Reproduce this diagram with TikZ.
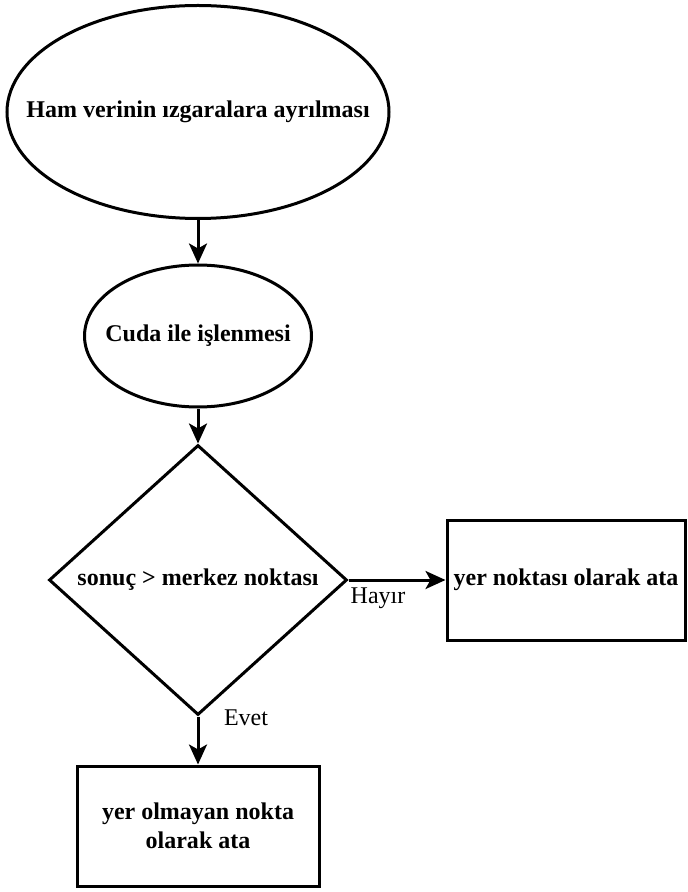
\documentclass[tikz,border=0pt]{standalone}
\usepackage{fontspec}
\setmainfont{Liberation Serif}
\usetikzlibrary{arrows.meta}
\usetikzlibrary{shapes.geometric}

\begin{document}
\begin{tikzpicture}[x=0.5pt,y=-0.5pt,line width=1.5pt]
	\useasboundingbox (0,0) rectangle (687,892);
	\tikzstyle{every node}=[draw,align=center,inner sep=0pt,font=\fontsize{12}{14.5}\selectfont\bfseries]
	\node[ellipse,inner xsep=-40pt,minimum width=191pt,minimum height=106.5pt] (ham) at (198,112) {Ham verinin ızgaralara ayrılması};
	\node[ellipse,inner xsep=-20pt,minimum width=113.5pt,minimum height=71pt] (cuda) at (198,336) {Cuda ile işlenmesi};
	\node[diamond,minimum width=149pt,minimum height=135pt] (karar) at (198,580) {sonuç > merkez noktası};
	\node[rectangle,minimum width=119pt,minimum height=60pt] (yer) at (566,580) {yer noktası olarak ata};
	\node[rectangle,minimum width=121pt,minimum height=60pt] (yerdegil) at (198,826) {yer olmayan nokta\\olarak ata};
	
	\tikzstyle{every node}=[font=\fontsize{12}{14.5}\selectfont]
	
	\draw[-{Stealth[length=10pt,width=9pt,inset=2.5pt]}] (ham) to (cuda);
	\draw[-{Stealth[length=10pt,width=9pt,inset=2.5pt]}] (cuda) to (karar);
	\draw[-{Stealth[length=10pt,width=9pt,inset=2.5pt]}] (karar) to (yer);
	\draw[-{Stealth[length=10pt,width=9pt,inset=2.5pt]}] (karar) to (yerdegil);
	
	\node at (378,598) {Hayır};
	\node at (246,718) {Evet};
\end{tikzpicture}
\end{document}
